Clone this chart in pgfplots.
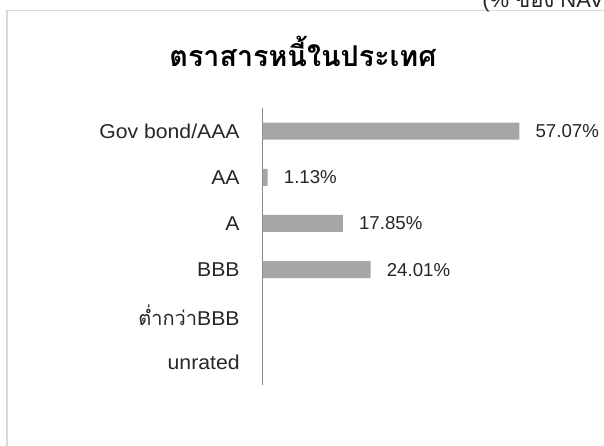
\documentclass[border=0pt]{standalone}
\usepackage{fontspec}
\setmainfont{Liberation Sans}
\newfontfamily\thaifont[Script=Thai]{Loma}
\newfontfamily\widesans[FakeStretch=1.06]{Liberation Sans}
\usepackage{pgfplots}
\pgfplotsset{compat=1.18}
\definecolor{barcol}{HTML}{A6A6A6}
\definecolor{axcol}{HTML}{868686}
\definecolor{framecol}{HTML}{D9D9D9}
\definecolor{txt}{HTML}{262626}
\begin{document}
\begin{tikzpicture}
\useasboundingbox (0,0) rectangle (453pt,334.5pt);
% chart frame (right and bottom edges fall outside the picture)
\draw[framecol, line width=1.2pt] (5.25pt,-20pt) -- (5.25pt,326.6pt) -- (480pt,326.6pt);
% unit note at top right, cut by the picture's edge as in the source
\node[anchor=base west, inner sep=0pt, text=txt, font=\fontsize{16.5}{18}\selectfont]
  at (361.5pt,328.5pt) {(\% {\thaifont ของ} NAV)};
% title
\node[text=black, font=\thaifont\bfseries\fontsize{21.5}{24}\selectfont]
  at (227.25pt,296pt) {ตราสารหนี้ในประเทศ};
\begin{axis}[
    at={(196.9pt,45.75pt)}, anchor=south west,
    scale only axis,
    width=225pt, height=207.75pt,
    xbar, bar width=12.75pt,
    xmin=0, xmax=66.67,
    ymin=-0.5, ymax=5.5, y dir=reverse,
    axis x line=none,
    axis y line*=left,
    y axis line style={axcol, line width=1.1pt, -},
    ytick={0,1,2,3,4,5},
    yticklabels={Gov bond/AAA, AA, A, BBB, {{\thaifont ต่ำกว่า}BBB}, unrated},
    major tick length=0pt,
    yticklabel style={inner sep=0pt, anchor=east, xshift=-17pt, text=txt,
        font=\widesans\fontsize{15}{17}\selectfont},
    /pgf/number format/assume math mode=true,
    nodes near coords={\pgfmathprintnumber[fixed,fixed zerofill,precision=2]{\pgfplotspointmeta}\%},
    point meta=x,
    nodes near coords style={anchor=west, inner sep=0pt, xshift=12pt, text=txt,
        font=\fontsize{14}{16}\selectfont},
    clip=false,
]
\addplot[fill=barcol, draw=none] coordinates {
    (57.07,0)
    (1.13,1)
    (17.85,2)
    (24.01,3)
};
\end{axis}
\end{tikzpicture}
\end{document}
